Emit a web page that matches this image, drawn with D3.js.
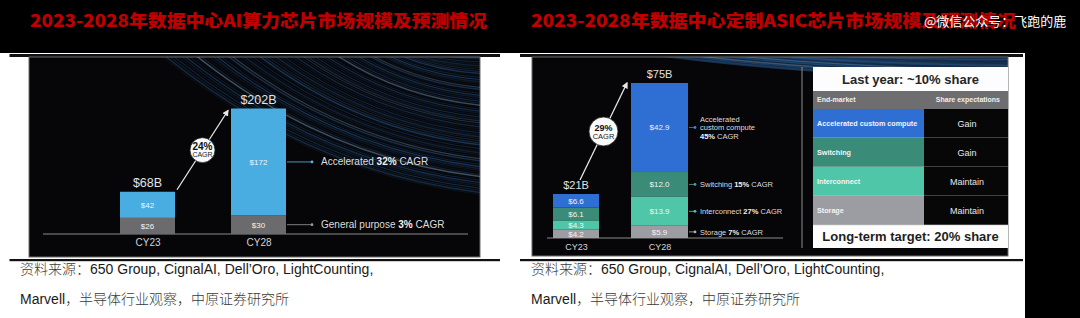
<!DOCTYPE html>
<html>
<head>
<meta charset="utf-8">
<script src="https://cdn.jsdelivr.net/npm/d3@7"></script>
<style>
  html, body { margin: 0; padding: 0; background: #000; overflow: hidden; }
  svg { display: block; }
</style>
</head>
<body>
<script>
'use strict';

// ---- left chart: data center AI compute chips ($B) ----
const aiYears = ["CY23", "CY28"];
const aiGeneral = [26, 30];
const aiAccelerated = [42, 172];
const aiSeriesNames = [["General purpose"], ["Accelerated"]];
const aiSeriesCagr = ["3%", "32%"];
const aiTotalCagr = "24%";

// ---- right chart: custom ASIC ($B) ----
const asicYears = ["CY23", "CY28"];
const asicStorage = [4.2, 5.9];
const asicInterconnect = [4.3, 13.9];
const asicSwitching = [6.1, 12.0];
const asicCustom = [6.6, 42.9];
const asicSeriesNames = [["Storage"], ["Interconnect"], ["Switching"], ["Accelerated", "custom compute"]];
const asicSeriesCagr = ["7%", "27%", "15%", "45%"];
const asicTotalCagr = "29%";

// ---- share table ----
const tableTitle = "Last year: ~10% share";
const tableHeader = ["End-market", "Share expectations"];
const tableMarkets = ["Accelerated custom compute", "Switching", "Interconnect", "Storage"];
const tableExpect = ["Gain", "Gain", "Maintain", "Maintain"];
const tableFooter = "Long-term target: 20% share";

// ---- page texts ----
const titles = ["2023-2028年数据中心AI算力芯片市场规模及预测情况", "2023-2028年数据中心定制ASIC芯片市场规模及预测情况"];
const watermark = "@微信公众号：飞跑的鹿";
const sourceLine1 = [["资料来源：", "cjk"], ["650 Group, CignalAI, Dell’Oro, LightCounting,", "lat"]];
const sourceLine2 = [["Marvell", "lat"], ["，半导体行业观察，中原证券研究所", "cjk"]];

const latin = '"Liberation Sans", Arial, sans-serif';
const cjk = '"Noto Sans CJK SC", sans-serif';

let svgContainer = "";

window.onload = function() {
  svgContainer = d3.select('body')
    .append('svg')
    .attr('width', 1080)
    .attr('height', 318);

  let defs = svgContainer.append('defs');
  defs.append('marker')
    .attr('id', 'arrow')
    .attr('viewBox', '0 0 10 10')
    .attr('refX', 8).attr('refY', 5)
    .attr('markerWidth', 5).attr('markerHeight', 5)
    .attr('orient', 'auto')
    .append('path')
      .attr('d', 'M0,0 L10,5 L0,10 z')
      .attr('fill', '#e6e6e6');

  drawPage();
  drawAiChart();
  drawAsicChart();
  drawTable();
}

// black title band, white page, rules and source notes
function drawPage() {
  svgContainer.append('rect')
    .attr('x', 0).attr('y', 0).attr('width', 1080).attr('height', 318)
    .attr('fill', '#000');
  svgContainer.append('rect')
    .attr('x', 0).attr('y', 53).attr('width', 1025).attr('height', 265)
    .attr('fill', '#fff');

  // titles
  let titleX = [30, 531];
  let titleW = [457, 485];
  titles.forEach(function(t, i) {
    svgContainer.append('text')
      .attr('x', titleX[i]).attr('y', 26.5)
      .attr('textLength', titleW[i])
      .attr('lengthAdjust', 'spacingAndGlyphs')
      .style('font-family', cjk)
      .style('font-weight', 900)
      .style('font-size', '17px')
      .attr('fill', '#c00000')
      .text(t);
  });

  svgContainer.append('text')
    .attr('x', 924).attr('y', 25.5)
    .style('font-family', cjk)
    .style('font-size', '13px')
    .attr('fill', '#fff')
    .text(watermark);

  // panel rules
  [[9.5, 500], [520, 1023]].forEach(function(r) {
    svgContainer.append('rect')
      .attr('x', r[0]).attr('y', 54).attr('width', r[1] - r[0]).attr('height', 3)
      .attr('fill', '#111');
    svgContainer.append('rect')
      .attr('x', r[0]).attr('y', 259).attr('width', r[1] - r[0]).attr('height', 2.2)
      .attr('fill', '#111');
  });

  // source notes
  [20, 531].forEach(function(x0) {
    [[sourceLine1, 274], [sourceLine2, 304]].forEach(function(line) {
      let t = svgContainer.append('text')
        .attr('x', x0).attr('y', line[1])
        .style('font-size', '14px');
      line[0].forEach(function(part) {
        t.append('tspan')
          .style('font-family', part[1] == 'cjk' ? cjk : latin)
          .style('font-weight', part[1] == 'cjk' ? 300 : 400)
          .attr('fill', part[1] == 'cjk' ? '#3a3a3a' : '#1a1a1a')
          .text(part[0]);
      });
    });
  });
}

// dark slide background with blue light streaks
function drawSlide(id, x, y, w, h, streaks) {
  let g = svgContainer.append('g');
  svgContainer.select('defs').append('clipPath')
    .attr('id', id)
    .append('rect').attr('x', x).attr('y', y).attr('width', w).attr('height', h);

  g.append('rect')
    .attr('x', x).attr('y', y).attr('width', w).attr('height', h)
    .attr('fill', '#060608')
    .attr('stroke', '#6a6a6a')
    .attr('stroke-width', 1);

  let s = g.append('g').attr('clip-path', 'url(#' + id + ')');
  for (let i = 0; i < streaks.n; i++) {
    let t = i / (streaks.n - 1);
    let sx = streaks.x0[0] + (streaks.x0[1] - streaks.x0[0]) * t;
    let ey = streaks.y1[0] + (streaks.y1[1] - streaks.y1[0]) * t;
    let cx = sx + (streaks.x1 - sx) * 0.45;
    let cy = y + (ey - y) * 0.85;
    s.append('path')
      .attr('d', 'M' + sx + ',' + (y - 2) + ' Q' + cx + ',' + cy + ' ' + streaks.x1 + ',' + ey)
      .attr('fill', 'none')
      .attr('stroke', (i % 9 == 0) ? '#9cc8f0' : '#2f6db3')
      .attr('stroke-opacity', 0.12 + 0.32 * ((i * 7) % 11) / 10)
      .attr('stroke-width', 0.5 + ((i * 3) % 4) * 0.35);
  }
  return g;
}

// generic stacked bar chart on a slide
function drawStack(g, opt) {
  let rows = opt.years.map(function(yr, i) {
    let row = { year: yr };
    opt.keys.forEach(function(k, j) { row[k] = opt.values[j][i]; });
    return row;
  });
  let series = d3.stack().keys(opt.keys)(rows);
  let totals = rows.map(function(r) { return d3.sum(opt.keys, function(k) { return r[k]; }); });

  let x = d3.scalePoint().domain(opt.years).range(opt.xRange);
  let y = d3.scaleLinear().domain([0, d3.max(totals)]).range(opt.yRange);
  let bw = function(d) { return opt.barWidths[opt.years.indexOf(d.data.year)]; };

  // baseline
  g.append('line')
    .attr('x1', opt.axisX[0]).attr('x2', opt.axisX[1])
    .attr('y1', y(0)).attr('y2', y(0))
    .attr('stroke', '#8a8a8a').attr('stroke-width', 1);

  // category labels
  let xAxis = d3.axisBottom(x).tickSize(0).tickPadding(opt.tickPad);
  let ax = g.append('g')
    .attr('transform', 'translate(0,' + y(0) + ')')
    .call(xAxis);
  ax.select('.domain').remove();
  ax.selectAll('text')
    .style('font-family', latin)
    .style('font-size', opt.catFont)
    .attr('fill', '#d4d4d4');

  // bars
  let layer = g.selectAll('.layer')
    .data(series)
    .enter()
    .append('g')
      .attr('fill', function(d, i) { return opt.colors[i]; });
  layer.selectAll('rect')
    .data(function(d) { return d; })
    .enter()
    .append('rect')
      .attr('x', function(d) { return x(d.data.year) - bw(d) / 2; })
      .attr('y', function(d) { return y(d[1]); })
      .attr('width', bw)
      .attr('height', function(d) { return y(d[0]) - y(d[1]); });

  // value labels inside segments
  layer.selectAll('text')
    .data(function(d) { return d; })
    .enter()
    .append('text')
      .attr('x', function(d) { return x(d.data.year); })
      .attr('y', function(d) { return (y(d[0]) + y(d[1])) / 2; })
      .attr('dy', '0.36em')
      .attr('text-anchor', 'middle')
      .style('font-family', latin)
      .style('font-size', opt.segFont)
      .attr('fill', '#eef3f6')
      .text(function(d) { return '$' + opt.fmt(d[1] - d[0]); });

  // totals above bars
  g.selectAll('.total')
    .data(rows)
    .enter()
    .append('text')
      .attr('x', function(d) { return x(d.year); })
      .attr('y', function(d, i) { return y(totals[i]) - opt.totalGap; })
      .attr('text-anchor', 'middle')
      .style('font-family', latin)
      .style('font-size', opt.totalFont)
      .attr('fill', '#e2e2e2')
      .text(function(d, i) { return '$' + Math.round(totals[i]) + 'B'; });

  // leaders and notes on the last bar
  let last = opt.years.length - 1;
  let right = x(opt.years[last]) + opt.barWidths[last] / 2;
  series.forEach(function(s, i) {
    let d = s[last];
    let cy = (y(d[0]) + y(d[1])) / 2;
    g.append('line')
      .attr('x1', right + 1).attr('x2', right + opt.leader)
      .attr('y1', cy).attr('y2', cy)
      .attr('stroke', opt.leaderColors[i]).attr('stroke-width', 0.8);
    g.append('circle')
      .attr('cx', right + opt.leader).attr('cy', cy).attr('r', 1.4)
      .attr('fill', opt.leaderColors[i]);

    let names = opt.names[i];
    let lines = names.length > 1 ? names.concat(['']) : names;
    let t = g.append('text')
      .style('font-family', latin)
      .style('font-size', opt.noteFont)
      .attr('fill', '#dcdcdc');
    lines.forEach(function(nm, j) {
      let ly = cy + (j - (lines.length - 1) / 2) * opt.noteLine;
      let tl = t.append('tspan')
        .attr('x', right + opt.leader + opt.noteGap)
        .attr('y', ly)
        .attr('dy', '0.35em');
      let isLast = j == lines.length - 1;
      if (nm != '') tl.append('tspan').text(nm + (isLast ? ' ' : ''));
      if (isLast) {
        tl.append('tspan').style('font-weight', 'bold').attr('fill', '#f2f2f2').text(opt.cagr[i]);
        tl.append('tspan').text(' CAGR');
      }
    });
  });

  // growth arrow with CAGR bubble
  let p0 = [x(opt.years[0]) + opt.arrowStart[0], y(totals[0]) + opt.arrowStart[1]];
  let p1 = [x(opt.years[last]) + opt.arrowEnd[0], y(totals[last]) + opt.arrowEnd[1]];
  g.append('line')
    .attr('x1', p0[0]).attr('y1', p0[1]).attr('x2', p1[0]).attr('y2', p1[1])
    .attr('stroke', '#e6e6e6').attr('stroke-width', 1.3)
    .attr('marker-end', 'url(#arrow)');
  let mx = (p0[0] + p1[0]) / 2;
  let my = (p0[1] + p1[1]) / 2;
  g.append('circle')
    .attr('cx', mx).attr('cy', my).attr('r', opt.bubbleR)
    .attr('fill', '#fafafa').attr('stroke', '#222').attr('stroke-width', 0.8);
  g.append('text')
    .attr('x', mx).attr('y', my - 0.5)
    .attr('text-anchor', 'middle')
    .style('font-family', latin).style('font-weight', 'bold')
    .style('font-size', opt.bubbleFont[0])
    .attr('fill', '#111')
    .text(opt.totalCagr);
  g.append('text')
    .attr('x', mx).attr('y', my + opt.bubbleR * 0.55)
    .attr('text-anchor', 'middle')
    .style('font-family', latin)
    .style('font-size', opt.bubbleFont[1])
    .attr('fill', '#222')
    .text('CAGR');
}

function drawAiChart() {
  let g = drawSlide('clipAi', 29, 57, 451, 200,
    { n: 70, x0: [160, 430], x1: 485, y1: [195, 58] });
  drawStack(g, {
    years: aiYears,
    keys: ['general', 'accelerated'],
    values: [aiGeneral, aiAccelerated],
    names: aiSeriesNames,
    cagr: aiSeriesCagr,
    totalCagr: aiTotalCagr,
    colors: ['#6b6b6d', '#4aade2'],
    leaderColors: ['#9a9a9a', '#5ab8e8'],
    xRange: [147.5, 258.5],
    yRange: [234, 108.5],
    barWidths: [55, 55],
    axisX: [43, 468],
    fmt: function(v) { return Math.round(v); },
    catFont: '10px', segFont: '8px', totalFont: '12.5px', noteFont: '10px',
    tickPad: 5, totalGap: 5, leader: 26, noteGap: 9, noteLine: 10,
    arrowStart: [29.5, -2], arrowEnd: [-30.5, 2],
    bubbleR: 12.5, bubbleFont: ['10px', '7px']
  });
}

function drawAsicChart() {
  let g = drawSlide('clipAsic', 532, 57, 476, 199,
    { n: 40, x0: [650, 820], x1: 1010, y1: [80, 58] });
  // separator between chart and table
  g.append('line')
    .attr('x1', 802).attr('x2', 802).attr('y1', 67).attr('y2', 248)
    .attr('stroke', '#8a8a8a').attr('stroke-width', 1);
  drawStack(g, {
    years: asicYears,
    keys: ['storage', 'interconnect', 'switching', 'custom'],
    values: [asicStorage, asicInterconnect, asicSwitching, asicCustom],
    names: asicSeriesNames,
    cagr: asicSeriesCagr,
    totalCagr: asicTotalCagr,
    colors: ['#9c9da3', '#50c6a9', '#3a8b77', '#2f6ed2'],
    leaderColors: ['#b0b0b0', '#50c6a9', '#4aa58e', '#3d7fe0'],
    xRange: [576, 659.5],
    yRange: [238, 83],
    barWidths: [46, 57],
    axisX: [547, 783],
    fmt: function(v) { return v.toFixed(1); },
    catFont: '9px', segFont: '8px', totalFont: '11px', noteFont: '7.5px',
    tickPad: 6, totalGap: 5, leader: 7, noteGap: 5, noteLine: 8.5,
    arrowStart: [4, -14], arrowEnd: [-32.5, 0],
    bubbleR: 14.5, bubbleFont: ['9px', '7.5px']
  });
}

function drawTable() {
  let g = svgContainer.append('g');
  let x0 = 813, xs = 924, x1 = 1008;
  let rowColors = ['#2f6ed2', '#3a8b77', '#50c6a9', '#9c9da3'];

  g.append('rect')
    .attr('x', x0).attr('y', 67).attr('width', x1 - x0).attr('height', 181)
    .attr('fill', '#fdfdfd');

  g.append('text')
    .attr('x', (x0 + x1) / 2).attr('y', 79).attr('dy', '0.36em')
    .attr('text-anchor', 'middle')
    .style('font-family', latin).style('font-weight', 'bold').style('font-size', '13px')
    .attr('fill', '#262626')
    .text(tableTitle);

  // header row
  g.append('rect')
    .attr('x', x0).attr('y', 91).attr('width', x1 - x0).attr('height', 18)
    .attr('fill', '#6e6e70');
  [[x0 + 4, 'start'], [x1 - 8, 'end']].forEach(function(h, i) {
    g.append('text')
      .attr('x', h[0]).attr('y', 100).attr('dy', '0.35em')
      .attr('text-anchor', h[1])
      .style('font-family', latin).style('font-weight', 'bold').style('font-size', '7px')
      .attr('fill', '#f0f0f0')
      .text(tableHeader[i]);
  });

  let rowY = d3.scaleBand().domain(tableMarkets).range([109, 225]);

  let row = g.selectAll('.row')
    .data(tableMarkets)
    .enter()
    .append('g');
  row.append('rect')
    .attr('x', x0).attr('y', function(d) { return rowY(d); })
    .attr('width', xs - x0).attr('height', rowY.bandwidth())
    .attr('fill', function(d, i) { return rowColors[i]; });
  row.append('rect')
    .attr('x', xs).attr('y', function(d) { return rowY(d); })
    .attr('width', x1 - xs).attr('height', rowY.bandwidth())
    .attr('fill', '#070708');
  row.append('line')
    .attr('x1', x0).attr('x2', x1)
    .attr('y1', function(d) { return rowY(d) + rowY.bandwidth(); })
    .attr('y2', function(d) { return rowY(d) + rowY.bandwidth(); })
    .attr('stroke', '#d0d0d0').attr('stroke-width', 0.6);
  row.append('text')
    .attr('x', x0 + 4)
    .attr('y', function(d) { return rowY(d) + rowY.bandwidth() / 2; })
    .attr('dy', '0.35em')
    .style('font-family', latin).style('font-weight', 'bold').style('font-size', '7.2px')
    .attr('fill', '#f4f4f4')
    .text(function(d) { return d; });
  row.append('text')
    .attr('x', (xs + x1) / 2 + 1)
    .attr('y', function(d) { return rowY(d) + rowY.bandwidth() / 2; })
    .attr('dy', '0.35em')
    .attr('text-anchor', 'middle')
    .style('font-family', latin).style('font-size', '9px')
    .attr('fill', '#e8e8e8')
    .text(function(d, i) { return tableExpect[i]; });

  g.append('text')
    .attr('x', (x0 + x1) / 2).attr('y', 236.5).attr('dy', '0.36em')
    .attr('text-anchor', 'middle')
    .style('font-family', latin).style('font-weight', 'bold').style('font-size', '13px')
    .attr('fill', '#1e1e1e')
    .text(tableFooter);
}
</script>
</body>
</html>
